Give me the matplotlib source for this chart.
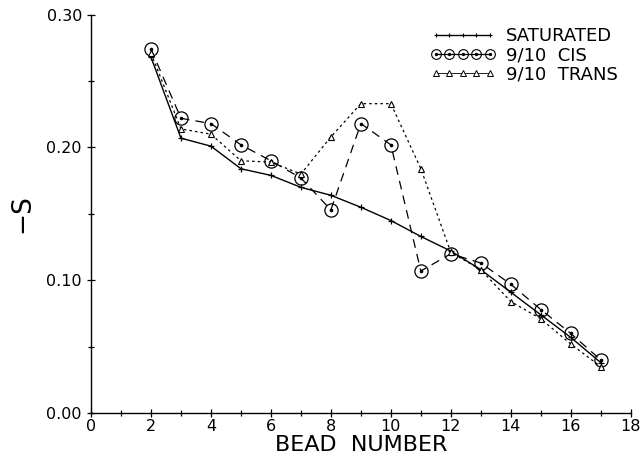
import numpy as np
import matplotlib
matplotlib.use("Agg")
import matplotlib.pyplot as plt
from matplotlib.ticker import MultipleLocator
from matplotlib.legend_handler import HandlerTuple

# Dữ liệu
bead = [2, 3, 4, 5, 6, 7, 8, 9, 10, 11, 12, 13, 14, 15, 16, 17]
saturated = [0.268, 0.207, 0.201, 0.184, 0.179, 0.170, 0.164, 0.155, 0.145, 0.133, 0.122, 0.108, 0.091, 0.074, 0.057, 0.038]
cis = [0.274, 0.222, 0.218, 0.202, 0.190, 0.177, 0.153, 0.218, 0.202, 0.107, 0.120, 0.113, 0.097, 0.078, 0.060, 0.040]
trans = [0.271, 0.214, 0.210, 0.190, 0.189, 0.180, 0.208, 0.233, 0.233, 0.184, 0.121, 0.108, 0.084, 0.071, 0.052, 0.035]

fig = plt.figure(figsize=(6.41, 4.59), dpi=100)
ax = fig.add_axes([0.142, 0.1, 0.842, 0.868])

h1, = ax.plot(bead, saturated, '-', color='black', lw=1.0, marker='+', ms=4, mew=0.9)
h2, = ax.plot(bead, cis, color='black', lw=0.9, dashes=(7, 5), marker='o', ms=9.5, mfc='none', mec='black', mew=0.9)
h2d, = ax.plot(bead, cis, ls='none', marker='o', ms=1.6, color='black')
h3, = ax.plot(bead, trans, color='black', lw=0.9, dashes=(2, 2.5), marker='^', ms=5, mfc='white', mec='black', mew=0.8)

ax.set_xlim(0, 18)
ax.set_ylim(0, 0.30)
ax.xaxis.set_major_locator(MultipleLocator(2))
ax.xaxis.set_minor_locator(MultipleLocator(1))
ax.yaxis.set_major_locator(MultipleLocator(0.1))
ax.yaxis.set_minor_locator(MultipleLocator(0.05))
ax.yaxis.set_major_formatter(plt.FuncFormatter(lambda v, p: '%.2f' % v))
ax.tick_params(which='both', direction='inout', labelsize=11.5, width=0.9)
ax.tick_params(which='major', length=6)
ax.tick_params(which='minor', length=4)
ax.tick_params(axis='x', pad=1)
for s in ['top', 'right']:
    ax.spines[s].set_visible(False)
for s in ['left', 'bottom']:
    ax.spines[s].set_linewidth(1.0)

ax.set_xlabel('BEAD  NUMBER', fontsize=16, labelpad=1)
ax.set_ylabel('\u2212S', fontsize=19, labelpad=8)

# legend: đường mẫu ngắn, 5 marker
l1, = ax.plot([], [], '-', color='black', lw=1.0, marker='+', ms=3.5, mew=0.8)
l2, = ax.plot([], [], '-', color='black', lw=0.9, marker='o', ms=7, mfc='none', mec='black', mew=0.8)
l2d, = ax.plot([], [], ls='none', marker='o', ms=1.4, color='black')
l3, = ax.plot([], [], '-', color='black', lw=0.6, marker='^', ms=4, mfc='white', mec='black', mew=0.7)
ax.legend([l1, (l2, l2d), l3], ['SATURATED', '9/10  CIS', '9/10  TRANS'],
          handler_map={tuple: HandlerTuple(ndivide=1, pad=0)},
          loc='upper right', bbox_to_anchor=(1.0, 1.0), frameon=False, numpoints=5,
          handlelength=3.6, fontsize=13, handletextpad=0.6, labelspacing=0.05, borderaxespad=0.3)

fig.savefig('out.png', dpi=100)
